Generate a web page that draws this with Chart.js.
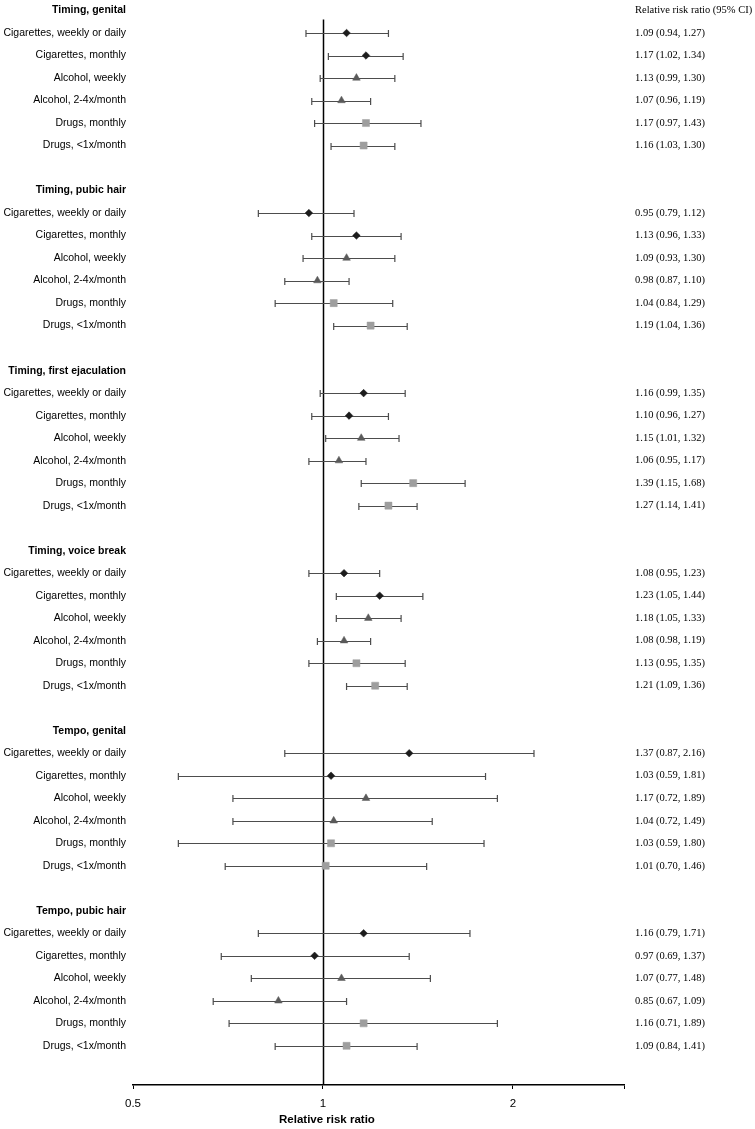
<!DOCTYPE html>
<html>
<head>
<meta charset="utf-8">
<script src="https://cdn.jsdelivr.net/npm/chart.js@4.4.0/dist/chart.umd.min.js"></script>
<style>
  html, body { margin: 0; padding: 0; background: #fff; }
  canvas { display: block; }
</style>
</head>
<body>
<canvas id="forest" width="755" height="1129"></canvas>
<script>
// outcome groups and exposure rows
const outcomes = ['Timing, genital', 'Timing, pubic hair', 'Timing, first ejaculation',
  'Timing, voice break', 'Tempo, genital', 'Tempo, pubic hair'];
const exposures = ['Cigarettes, weekly or daily', 'Cigarettes, monthly', 'Alcohol, weekly',
  'Alcohol, 2-4x/month', 'Drugs, monthly', 'Drugs, <1x/month'];

// relative risk ratio and 95% CI, one row per outcome
const rr = [
  [1.09, 1.17, 1.13, 1.07, 1.17, 1.16],
  [0.95, 1.13, 1.09, 0.98, 1.04, 1.19],
  [1.16, 1.10, 1.15, 1.06, 1.39, 1.27],
  [1.08, 1.23, 1.18, 1.08, 1.13, 1.21],
  [1.37, 1.03, 1.17, 1.04, 1.03, 1.01],
  [1.16, 0.97, 1.07, 0.85, 1.16, 1.09]
];
const lower = [
  [0.94, 1.02, 0.99, 0.96, 0.97, 1.03],
  [0.79, 0.96, 0.93, 0.87, 0.84, 1.04],
  [0.99, 0.96, 1.01, 0.95, 1.15, 1.14],
  [0.95, 1.05, 1.05, 0.98, 0.95, 1.09],
  [0.87, 0.59, 0.72, 0.72, 0.59, 0.70],
  [0.79, 0.69, 0.77, 0.67, 0.71, 0.84]
];
const upper = [
  [1.27, 1.34, 1.30, 1.19, 1.43, 1.30],
  [1.12, 1.33, 1.30, 1.10, 1.29, 1.36],
  [1.35, 1.27, 1.32, 1.17, 1.68, 1.41],
  [1.23, 1.44, 1.33, 1.19, 1.35, 1.36],
  [2.16, 1.81, 1.89, 1.49, 1.80, 1.46],
  [1.71, 1.37, 1.48, 1.09, 1.89, 1.41]
];

const xTicks = [0.5, 1, 2, 3];
const xTickLabels = ['0.5', '1', '2', ''];
const ciHeader = 'Relative risk ratio (95% CI)';
const xTitle = 'Relative risk ratio';

// marker groups: which exposure rows get which symbol
const markers = [
  { rows: [0, 1], style: 'rectRot', radius: 3.8, color: '#1c1c1c' },
  { rows: [2, 3], style: 'triangle', radius: 4.4, color: '#5a5a5a' },
  { rows: [4, 5], style: 'rect', radius: 5, color: '#9e9e9e' }
];

// each outcome uses 8 slots: header, 6 rows, blank
const slotOf = (g, i) => g * 8 + 1 + i;
const leftLabels = {};
const rightLabels = {};
const headerSlots = new Set();
const slots = [];
outcomes.forEach((name, g) => {
  leftLabels[g * 8] = name;
  headerSlots.add(g * 8);
  slots.push(g * 8);
  exposures.forEach((e, i) => {
    const s = slotOf(g, i);
    leftLabels[s] = e;
    rightLabels[s] = rr[g][i].toFixed(2) + ' (' + lower[g][i].toFixed(2) + ', ' + upper[g][i].toFixed(2) + ')';
    slots.push(s);
  });
});
rightLabels[0] = ciHeader;

const datasets = markers.map(m => ({
  data: outcomes.flatMap((_, g) => m.rows.map(i => ({ x: rr[g][i], y: slotOf(g, i) }))),
  pointStyle: m.style,
  pointRadius: m.radius,
  pointBackgroundColor: m.color,
  pointBorderColor: m.color,
  pointBorderWidth: 0.5,
  showLine: false
}));

const forestLines = {
  id: 'forestLines',
  beforeDatasetsDraw(chart) {
    const { ctx, scales: { x, y }, chartArea } = chart;
    ctx.save();
    // line of no effect
    ctx.strokeStyle = '#000';
    ctx.lineWidth = 1.5;
    const x1 = Math.round(x.getPixelForValue(1)) + 0.5;
    ctx.beginPath();
    ctx.moveTo(x1, y.getPixelForValue(0.4));
    ctx.lineTo(x1, chartArea.bottom);
    ctx.stroke();
    // confidence intervals
    ctx.strokeStyle = '#4d4d4d';
    ctx.lineWidth = 1.2;
    outcomes.forEach((_, g) => {
      exposures.forEach((e, i) => {
        const py = Math.round(y.getPixelForValue(slotOf(g, i))) + 0.5;
        const a = x.getPixelForValue(lower[g][i]);
        const b = x.getPixelForValue(upper[g][i]);
        ctx.beginPath();
        ctx.moveTo(a, py); ctx.lineTo(b, py);
        ctx.moveTo(a, py - 3.5); ctx.lineTo(a, py + 3.5);
        ctx.moveTo(b, py - 3.5); ctx.lineTo(b, py + 3.5);
        ctx.stroke();
      });
    });
    ctx.restore();
  },
  afterDraw(chart) {
    const { ctx, scales: { x } } = chart;
    ctx.save();
    ctx.fillStyle = '#000';
    ctx.font = 'bold 11.5px "Liberation Sans", Arial, sans-serif';
    ctx.textAlign = 'center';
    ctx.textBaseline = 'middle';
    ctx.fillText(xTitle, x.getPixelForValue(1) + 4, 1120);
    ctx.restore();
  }
};

const normalFont = { family: '"Liberation Sans", Arial, sans-serif', size: 10.5 };
const boldFont = { family: '"Liberation Sans", Arial, sans-serif', size: 10.5, weight: 'bold' };

// keep the plot area flush with the canvas top
const noPad = axis => { axis.paddingTop = 0; axis.paddingBottom = 0; };
const yMin = -0.222;
const yMax = 47.74;

new Chart(document.getElementById('forest'), {
  type: 'scatter',
  data: { datasets },
  plugins: [forestLines],
  options: {
    responsive: false,
    animation: false,
    devicePixelRatio: 1,
    layout: { padding: 0 },
    plugins: { legend: { display: false }, tooltip: { enabled: false } },
    scales: {
      x: {
        type: 'logarithmic',
        min: 0.5,
        max: 3,
        afterBuildTicks: axis => { axis.ticks = xTicks.map(v => ({ value: v })); },
        afterFit: axis => { axis.height = 44; axis.paddingLeft = 0; axis.paddingRight = 0; },
        ticks: {
          callback: (v, i) => xTickLabels[i],
          autoSkip: false,
          maxRotation: 0,
          padding: 8,
          color: '#000',
          font: { family: '"Liberation Sans", Arial, sans-serif', size: 11.5 }
        },
        grid: { drawOnChartArea: false, drawTicks: true, tickLength: 4, color: '#000', lineWidth: 1 },
        border: { color: '#000', width: 1.5 }
      },
      y: {
        type: 'linear',
        position: 'left',
        reverse: true,
        min: yMin,
        max: yMax,
        afterBuildTicks: axis => { axis.ticks = slots.map(v => ({ value: v })); },
        afterFit: axis => { axis.width = 133; noPad(axis); },
        ticks: {
          callback: v => leftLabels[v] || '',
          autoSkip: false,
          padding: 7,
          color: '#000',
          font: c => (c.tick && headerSlots.has(c.tick.value)) ? boldFont : normalFont
        },
        grid: { display: false, drawTicks: false },
        border: { display: false }
      },
      y2: {
        type: 'linear',
        position: 'right',
        reverse: true,
        min: yMin,
        max: yMax,
        afterBuildTicks: axis => { axis.ticks = [0].concat(slots.filter(s => !headerSlots.has(s))).map(v => ({ value: v })); },
        afterFit: axis => { axis.width = 131; noPad(axis); },
        ticks: {
          callback: v => rightLabels[v] || '',
          autoSkip: false,
          padding: 11,
          color: '#000',
          font: { family: '"Liberation Serif", "Times New Roman", serif', size: 10.5 }
        },
        grid: { display: false, drawTicks: false },
        border: { display: false }
      }
    }
  }
});
</script>
</body>
</html>
